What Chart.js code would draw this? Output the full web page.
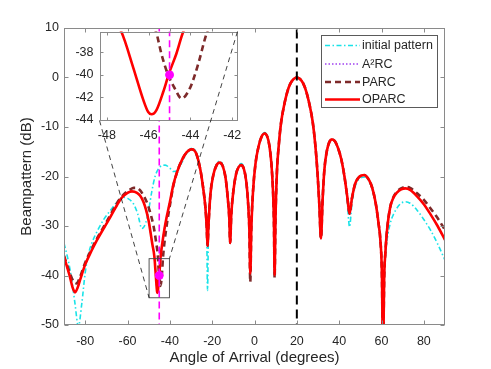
<!DOCTYPE html>
<html>
<head>
<meta charset="utf-8">
<script src="https://cdn.jsdelivr.net/npm/chart.js@4/dist/chart.umd.min.js"></script>
<style>
  html, body { margin: 0; padding: 0; background: #fff; }
  #wrap { position: relative; width: 491px; height: 369px; }
  #wrap canvas { position: absolute; left: 0; top: 0; }
</style>
</head>
<body>
<div id="wrap">
  <canvas id="mainChart" width="491" height="369"></canvas>
  <canvas id="insetChart" width="491" height="369"></canvas>
</div>
<script>
// values (angle in degrees, level in dB)
const oparcAngle = [
  -90, -87.5, -85.8, -84.8, -83.6, -82.4, -80, -77, -74.5, -71, -68, -65, -62.7, -60, -57.9, -55.5, -54, -52.5, -51.2, -50,
  -49.3, -48.3, -47.3, -46.73, -46.26, -46.02, -45.86, -45.62, -45.3, -45.03, -44.67, -44.35, -43.5, -42.5, -41.4, -40,
  -38.3, -36.5, -34.3, -32, -29.6, -27.5, -25.6, -24.2, -23.3, -22.6, -22.2, -21.7, -20.8, -19.5, -18, -16.5, -15, -13.7,
  -12.6, -11.9, -11.5, -11, -10, -8.7, -7.5, -6.3, -5, -3.9, -3, -2.4, -2, -1.5, -0.7, 0.5, 2, 3.4, 4.75, 6, 7, 8, 8.8, 9.2,
  9.5, 9.9, 10.6, 11.5, 12.5, 14, 15.5, 17, 18.5, 20, 21.5, 23, 24.5, 26, 27.5, 28.7, 29.8, 30.6, 31.4, 32.2, 33, 34.2,
  35.4, 36.6, 38, 39.5, 41, 42.5, 43.8, 44.9, 46, 47.6, 49.2, 50.5, 51.9, 53.5, 55, 56.3, 57.5, 58.7, 59.4, 60.2, 60.7,
  61.3, 61.8, 62.7, 64.1, 65.5, 67.4, 69.3, 71.3, 73.5, 76.8, 80, 83.1, 86.5, 90
];
const oparcDb = [
  -36.2, -39.8, -42.6, -43.4, -42.5, -40.9, -37.8, -35.0, -32.9, -30.3, -28.1, -25.8, -24.3, -23.3, -23.0, -23.3, -23.9, -25.1, -26.8, -29.0,
  -30.8, -33.6, -36.2, -39.4, -42.2, -43.3, -43.5, -43.1, -41.5, -39.9, -38.1, -36.2, -33.3, -30.5, -28.0, -25.2,
  -21.6, -19.0, -16.7, -15.1, -14.5, -15.4, -18.6, -22.5, -25.8, -30.0, -34.0, -29.5, -23.5, -19.8, -17.8, -17.2, -17.9, -20.2,
  -24.5, -28.5, -33.4, -28.0, -23.0, -19.5, -18.1, -17.7, -18.5, -21.0, -25.5, -31.0, -39.6, -30.5, -23.0, -17.3, -13.8, -11.9, -11.3, -11.9, -13.7, -17.5, -23.5, -29.5,
  -39.9, -29.0, -19.0, -13.5, -9.3, -5.6, -2.9, -1.2, -0.3, 0, -0.3, -1.2, -2.9, -5.5, -9.0, -13.5, -19.5, -25.5, -32.5, -24.5, -18.7, -14.8,
  -13.0, -12.5, -12.9, -14.3, -16.5, -20.0, -24.0, -27.5, -24.5, -21.4, -20.2, -19.8, -19.7, -20.3, -21.5, -23.4, -26.0, -29.8, -32.5, -40, -56,
  -40, -35.6, -30.5, -26.2, -24.4, -23.2, -22.6, -22.4, -22.7, -24.0, -25.6, -27.6, -30.0, -32.8
];

const parcAngle = [
  -90, -87.5, -85.5, -84, -82.6, -80, -77, -74.5, -71, -68, -65, -62, -59, -57, -55.6, -54, -52.5, -50.6, -49.2, -47.7,
  -46.5, -45.65, -45.38, -45.07, -44.75, -44.43, -44.03, -43.64, -43.24, -42.5, -41.4, -40, -38.3, -36.5,
  -34.3, -32, -29.6, -27.5, -25.6, -24.2, -23.3, -22.6, -22.2, -21.7, -20.8, -19.5, -18, -16.5, -15, -13.7,
  -12.6, -11.9, -11.5, -11, -10, -8.7, -7.5, -6.3, -5, -3.9, -3, -2.4, -2, -1.5, -0.7, 0.5, 2, 3.4, 4.75, 6, 7, 8, 8.8, 9.2,
  9.5, 9.9, 10.6, 11.5, 12.5, 14, 15.5, 17, 18.5, 20, 21.5, 23, 24.5, 26, 27.5, 28.7, 29.8, 30.6, 31.4, 32.2, 33, 34.2,
  35.4, 36.6, 38, 39.5, 41, 42.5, 43.8, 44.9, 46, 47.6, 49.2, 50.5, 51.9, 53.5, 55, 56.3, 57.5, 58.7, 59.4, 60.2, 60.7,
  61.3, 61.8, 62.7, 64.1, 65.5, 67.4, 69.3, 71.3, 73.5, 76.8, 80, 83.1, 86.5, 90
];
const parcDb = [
  -36.0, -39.2, -41.2, -41.6, -40.5, -37.4, -34.7, -32.6, -30.0, -27.7, -25.4, -23.7, -22.7, -22.3, -22.3, -22.8, -23.8, -25.5, -27.4, -30.0,
  -33.2, -36.15, -38.2, -40.0, -41.2, -42.1, -41.2, -39.1, -36.4, -33.2, -29.6, -25.9, -21.8, -19.0,
  -16.7, -15.1, -14.5, -15.4, -18.6, -22.5, -25.8, -30.0, -34.0, -29.5, -23.5, -19.8, -17.8, -17.2, -17.9, -20.2,
  -24.5, -28.5, -33.4, -28.0, -23.0, -19.5, -18.1, -17.7, -18.5, -21.0, -25.5, -31.5, -41.3, -30.5, -23.0, -17.3, -13.8, -11.9, -11.3, -11.9, -13.7, -17.5, -23.5, -30.0,
  -40.5, -29.0, -19.0, -13.5, -9.3, -5.6, -2.9, -1.2, -0.3, 0, -0.3, -1.2, -2.9, -5.5, -9.0, -13.5, -19.5, -25.5, -32.5, -24.5, -18.7, -14.8,
  -13.0, -12.5, -12.9, -14.3, -16.5, -20.0, -24.0, -27.5, -24.5, -21.4, -20.2, -19.8, -19.7, -20.3, -21.5, -23.4, -26.0, -29.8, -32.5, -40, -56,
  -40, -35.6, -30.5, -26.2, -24.3, -23.0, -22.4, -22.1, -22.3, -23.4, -24.7, -26.4, -28.4, -30.8
];

const initAngle = [
  -90, -88.5, -87.1, -85.8, -84.8, -83.2, -81.6, -80, -78.5, -76.9, -74, -71.4, -68, -65, -62, -60, -57.2, -55.2, -53.2, -51.5,
  -50.1, -48.5, -46.9, -44.5, -42.2, -40, -38.3, -36.5, -34.5, -32, -29.6, -27.5, -25.6, -24.2, -23.3, -22.6, -22.2, -21.7,
  -20.8, -19.5, -18, -16.5, -15, -13.7, -12.6, -11.9, -11.5, -11, -10, -8.7, -7.5, -6.3, -5, -3.9, -3, -2.4, -2, -1.5, -0.7,
  0.5, 2, 3.4, 4.75, 6, 7, 8, 8.8, 9.2, 9.5, 9.9, 10.6, 11.5, 12.5, 14, 15.5, 17, 18.5, 20, 21.5, 23, 24.5, 26, 27.5, 28.7,
  29.8, 30.6, 31.4, 32.2, 33, 34.2, 35.4, 36.6, 38, 39.5, 41, 42.5, 43.8, 44.9, 46, 47.6, 49.2, 50.5, 51.9, 53.5, 55, 56.3,
  57.5, 58.7, 59.4, 60.2, 60.7, 61.3, 61.8, 62.7, 64.1, 65.5, 67.4, 69.3, 71.3, 73.5, 76.8, 80, 83.1, 86.5, 90
];
const initDb = [
  -33.5, -36.0, -38.9, -42.5, -45.7, -50.3, -45.7, -39.5, -35.8, -33.5, -30.8, -28.8, -26.8, -25.2, -24.2, -24.4, -25.5, -27.5, -30.5, -29.5,
  -27.0, -23.0, -19.9, -18.0, -17.7, -18.3, -19.0, -18.8, -17.3, -15.3, -14.3, -15.2, -18.4, -22.3, -25.6, -30.0, -43.0, -29.5,
  -23.4, -19.6, -17.6, -16.9, -17.7, -20.1, -24.4, -28.4, -33.4, -28.0, -22.9, -19.3, -17.9, -17.4, -18.3, -20.9, -25.4, -31.0, -39.6, -30.5, -23.0,
  -17.2, -13.7, -11.8, -11.1, -11.8, -13.6, -17.4, -23.5, -29.5, -39.9, -29.0, -19.0, -13.5, -9.3, -5.6, -2.9, -1.2, -0.3, 0, -0.3, -1.2, -2.9, -5.5, -9.0, -13.5,
  -19.5, -25.5, -32.5, -24.5, -18.7, -14.8, -13.0, -12.4, -12.8, -14.2, -16.5, -20.3, -24.8, -30.2, -25.6, -22.0, -20.6, -20.2, -20.1, -20.6, -21.8, -23.7,
  -26.3, -30.0, -32.8, -40, -56, -40, -36.5, -32.6, -29.5, -27.8, -26.3, -25.4, -25.1, -25.4, -26.8, -28.7, -30.8, -33.6, -36.9
];

// A2RC is not visible in the picture: it lies under the OPARC curve
const a2rcAngle = oparcAngle;
const a2rcDb = oparcDb;

const seriesNames = ["initial pattern", "A\u00B2RC", "PARC", "OPARC"];

const nullAngle = [-45];        // magenta marker line
const nullLevel = [-40];        // magenta dot
const beamAngle = [20];         // black dashed line

const xTicks = [-80, -60, -40, -20, 0, 20, 40, 60, 80];
const yTicks = [-50, -40, -30, -20, -10, 0, 10];
const insetXTicks = [-48, -46, -44, -42];
const insetYTicks = [-44, -42, -40, -38];

const zoomBoxX = [-49.8, -40.2];
const zoomBoxY = [-44.5, -36.6];

const FONT = '"Liberation Sans", Arial, Helvetica, sans-serif';
const TEXT = "#262626";
const AXIS = "#8a8a8a";
const C_INIT = "#19e3e8";
const C_A2RC = "#a040f0";
const C_PARC = "#7e2a2a";
const C_OPARC = "#ff0000";
const C_MAG = "#ff00ff";

Chart.defaults.font.family = FONT;

const toPoints = (xs, ys) => xs.map((x, i) => ({ x, y: ys[i] }));
const vLine = (x) => [{ x, y: -60 }, { x, y: 20 }];
const noGrid = { display: false, drawTicks: false, tickLength: 0 };

function curveSets() {
  return [
    { data: toPoints(oparcAngle, oparcDb), borderColor: C_OPARC, borderWidth: 2.6 },
    { data: toPoints(parcAngle, parcDb), borderColor: C_PARC, borderWidth: 2.6, borderDash: [6, 4] },
    { data: toPoints(a2rcAngle, a2rcDb), borderColor: C_A2RC, borderWidth: 1.6, borderDash: [1.5, 2] },
    { data: toPoints(initAngle, initDb), borderColor: C_INIT, borderWidth: 1.6, borderDash: [5, 2.5, 1.5, 2.5] },
  ].map(d => ({ ...d, cubicInterpolationMode: "monotone", pointRadius: 0, clip: 0, fill: false }));
}

function markerSets(withBeam) {
  const sets = [
    { type: "scatter", data: [{ x: nullAngle[0], y: nullLevel[0] }], pointRadius: 4, pointBackgroundColor: C_MAG,
      pointBorderColor: C_MAG, showLine: false, clip: 0 },
    { data: vLine(nullAngle[0]), borderColor: C_MAG, borderWidth: 1.6, borderDash: [7, 4], pointRadius: 0, clip: 0 },
  ];
  if (withBeam) {
    sets.push({ data: vLine(beamAngle[0]), borderColor: "#000", borderWidth: 2, borderDash: [9, 5], pointRadius: 0, clip: 0 });
  }
  return sets;
}

function drawFrame(chart, tickLen, xt, yt) {
  const { ctx, chartArea: a, scales } = chart;
  const L = Math.round(a.left) + 0.5, R = Math.round(a.right) - 0.5;
  const T = Math.round(a.top) + 0.5, B = Math.round(a.bottom) - 0.5;
  ctx.save();
  ctx.strokeStyle = AXIS;
  ctx.lineWidth = 1;
  ctx.setLineDash([]);
  ctx.strokeRect(L, T, R - L, B - T);
  ctx.beginPath();
  xt.forEach(v => {
    const p = Math.round(scales.x.getPixelForValue(v)) + 0.5;
    ctx.moveTo(p, B); ctx.lineTo(p, B - tickLen);
    ctx.moveTo(p, T); ctx.lineTo(p, T + tickLen);
  });
  yt.forEach(v => {
    const p = Math.round(scales.y.getPixelForValue(v)) + 0.5;
    ctx.moveTo(L, p); ctx.lineTo(L + tickLen, p);
    ctx.moveTo(R, p); ctx.lineTo(R - tickLen, p);
  });
  ctx.stroke();
  ctx.restore();
}

function drawLegend(ctx) {
  const box = { l: 321.5, t: 35.5, r: 437.5, b: 107.5 };
  const rows = [45.5, 64, 82, 99.5];
  const styles = [
    { c: C_INIT, w: 1.6, d: [5, 2.5, 1.5, 2.5] },
    { c: C_A2RC, w: 1.6, d: [1.5, 2] },
    { c: C_PARC, w: 2.6, d: [6, 4] },
    { c: C_OPARC, w: 2.6, d: [] },
  ];
  ctx.save();
  ctx.fillStyle = "#fff";
  ctx.fillRect(box.l, box.t, box.r - box.l, box.b - box.t);
  ctx.strokeStyle = "#5a5a5a";
  ctx.lineWidth = 1;
  ctx.strokeRect(box.l, box.t, box.r - box.l, box.b - box.t);
  ctx.font = "12.5px " + FONT;
  ctx.textBaseline = "middle";
  ctx.fillStyle = TEXT;
  seriesNames.forEach((name, i) => {
    const s = styles[i];
    ctx.beginPath();
    ctx.strokeStyle = s.c;
    ctx.lineWidth = s.w;
    ctx.setLineDash(s.d);
    ctx.moveTo(325, rows[i]);
    ctx.lineTo(360, rows[i]);
    ctx.stroke();
    ctx.fillText(name, 362, rows[i] + 0.5);
  });
  ctx.restore();
}

const mainPlugin = {
  id: "mainDecor",
  afterDraw(chart) {
    drawFrame(chart, 4, xTicks, yTicks);
    drawLegend(chart.ctx);
  },
};

const mainChart = new Chart(document.getElementById("mainChart"), {
  type: "line",
  data: { datasets: [...markerSets(true), ...curveSets()] },
  options: {
    responsive: false,
    devicePixelRatio: 1,
    animation: false,
    events: [],
    layout: { padding: { left: 0, top: 28, right: 46, bottom: 0 } },
    plugins: { legend: { display: false }, tooltip: { enabled: false } },
    scales: {
      x: {
        type: "linear", min: -90, max: 90,
        afterBuildTicks: s => { s.ticks = xTicks.map(v => ({ value: v })); },
        afterFit: s => { s.height = 44; },
        grid: noGrid, border: { display: false },
        ticks: { color: TEXT, font: { size: 12.5 }, padding: 9, maxRotation: 0, autoSkip: false },
        title: { display: true, text: "Angle of Arrival (degrees)", color: TEXT, font: { size: 15 },
                 padding: { top: 0, bottom: 2 } },
      },
      y: {
        type: "linear", min: -50, max: 10,
        afterBuildTicks: s => { s.ticks = yTicks.map(v => ({ value: v })); },
        afterFit: s => { s.width = 64; },
        grid: noGrid, border: { display: false },
        ticks: { color: TEXT, font: { size: 12.5 }, padding: 5, autoSkip: false },
        title: { display: true, text: "Beampattern (dB)", color: TEXT, font: { size: 15 },
                 padding: { top: 17.5, bottom: 0 } },
      },
    },
  },
  plugins: [mainPlugin],
});

const insetPlugin = {
  id: "insetDecor",
  beforeDatasetsDraw(chart) {
    const { ctx, chartArea: a } = chart;
    ctx.save();
    ctx.fillStyle = "#fff";
    ctx.fillRect(a.left, a.top, a.right - a.left, a.bottom - a.top);
    ctx.restore();
  },
  afterDraw(chart) {
    drawFrame(chart, 3, insetXTicks, insetYTicks);
    const { ctx, chartArea: a } = chart;
    const mx = mainChart.scales.x, my = mainChart.scales.y;
    const rl = mx.getPixelForValue(zoomBoxX[0]), rr = mx.getPixelForValue(zoomBoxX[1]);
    const rt = my.getPixelForValue(zoomBoxY[1]), rb = my.getPixelForValue(zoomBoxY[0]);
    ctx.save();
    ctx.strokeStyle = "#444";
    ctx.lineWidth = 0.9;
    ctx.strokeRect(rl, rt, rr - rl, rb - rt);
    ctx.strokeStyle = "#111";
    ctx.lineWidth = 0.8;
    ctx.setLineDash([5, 4]);
    ctx.beginPath();
    ctx.moveTo(a.left, a.bottom); ctx.lineTo(rl, rb);
    ctx.moveTo(a.right, a.top); ctx.lineTo(rr, rt);
    ctx.stroke();
    ctx.restore();
  },
};

new Chart(document.getElementById("insetChart"), {
  type: "line",
  data: { datasets: [...markerSets(false), ...curveSets().filter((d, i) => i < 2)] },
  options: {
    responsive: false,
    devicePixelRatio: 1,
    animation: false,
    events: [],
    layout: { padding: { left: 69.5, top: 31.5, right: 253.5, bottom: 218.5 } },
    plugins: { legend: { display: false }, tooltip: { enabled: false } },
    scales: {
      x: {
        type: "linear", min: -48.35, max: -41.75,
        afterBuildTicks: s => { s.ticks = insetXTicks.map(v => ({ value: v })); },
        afterFit: s => { s.height = 30; },
        grid: noGrid, border: { display: false },
        ticks: { color: TEXT, font: { size: 12.5 }, padding: 8, maxRotation: 0, autoSkip: false },
      },
      y: {
        type: "linear", min: -44.05, max: -36.15,
        afterBuildTicks: s => { s.ticks = insetYTicks.map(v => ({ value: v })); },
        afterFit: s => { s.width = 30; },
        grid: noGrid, border: { display: false },
        ticks: { color: TEXT, font: { size: 12.5 }, padding: 6, autoSkip: false },
      },
    },
  },
  plugins: [insetPlugin],
});
</script>
</body>
</html>
